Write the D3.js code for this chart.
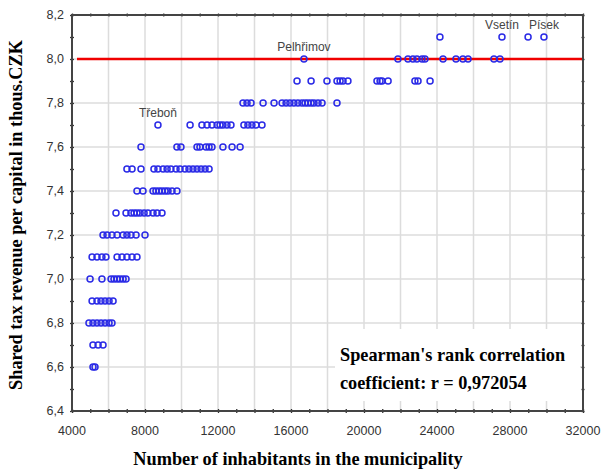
<!DOCTYPE html>
<html>
<head>
<meta charset="utf-8">
<script src="https://cdn.jsdelivr.net/npm/d3@7"></script>
<style>
body{margin:0;background:#fff;}
</style>
</head>
<body>
<svg id="graph"></svg>
<script>
// revenue levels (thous. CZK) and the municipalities sitting on each level
var revenueLevels=[6.6,6.7,6.8,6.9,7.0,7.1,7.2,7.3,7.4,7.5,7.6,7.7,7.8,7.9,8.0,8.1];

var inhabitants=[
 [5150,5260],
 [5150,5430,5700],
 [4930,5150,5370,5590,5810,6030,6190],
 [5100,5370,5590,5810,6030,6250],
 [4990,5640,6140,6300,6470,6630,6800,6960],
 [5100,5370,5640,5860,6470,6740,7010,7290,7560],
 [5700,5920,6190,6470,6800,7010,7230,7510,8000],
 [6410,6960,7230,7400,7560,7730,7950,8160,8440,8660,8930],
 [7560,7890,8440,8600,8770,8930,9100,9260,9480,9750],
 [7010,7290,7780,8490,8710,8990,9210,9420,9700,9920,10190,10410,10630,10850,11070,11290,11510],
 [7780,9750,9970,10850,11010,11340,11510,11670,12270,12770,13210],
 [8710,10470,11120,11400,11670,11950,12110,12270,12490,12710,13420,13640,13860,14080,14410],
 [13370,13590,13810,14470,15070,15510,15730,15940,16160,16380,16600,16770,16930,17100,17260,17480,17700,18520],
 [16330,17100,17970,18520,18690,18850,19120,20710,20880,20990,21320,22790,22960,23620],
 [16710,21860,22410,22680,22900,23180,23340,24330,25040,25420,25700,27120,27450],
 [24160,27560,28990,29860]
];

var townNames=["Třeboň","Pelhřimov","Vsetín","Písek"];
var townInhabitants=[8710,16710,27560,29860];
var townRevenue=[7.7,8.0,8.1,8.1];

var xTicks=[4000,8000,12000,16000,20000,24000,28000,32000];
var yTicks=[6.4,6.6,6.8,7.0,7.2,7.4,7.6,7.8,8.0,8.2];
var averageRevenue=8.0;

var screen={width:601,height:473};
var plot={left:72,right:583,top:15,bottom:411};

var svg=d3.select("#graph")
  .attr("width",screen.width)
  .attr("height",screen.height)
  .style("display","block");

var xScale=d3.scaleLinear().domain([4000,32000]).range([plot.left,plot.right]);
var yScale=d3.scaleLinear().domain([6.4,8.2]).range([plot.bottom,plot.top]);

var comma=function(v){return d3.format(".1f")(v).replace(".",",");};

// grid
var grid=svg.append("g");
grid.selectAll("line.v")
  .data(d3.range(6000,32000,2000))
  .enter().append("line")
  .attr("x1",function(d){return xScale(d);})
  .attr("x2",function(d){return xScale(d);})
  .attr("y1",plot.top).attr("y2",plot.bottom)
  .attr("stroke","#dcdcdc").attr("stroke-width",1.5);
grid.selectAll("line.h")
  .data(yTicks.slice(1,-1))
  .enter().append("line")
  .attr("y1",function(d){return yScale(d);})
  .attr("y2",function(d){return yScale(d);})
  .attr("x1",plot.left).attr("x2",plot.right)
  .attr("stroke","#dcdcdc").attr("stroke-width",1.5);

// axes with minor ticks
var minorX=d3.range(4000,32001,1000);
var minorY=d3.range(64,83,1).map(function(d){return d/10;});

var bottomAxis=d3.axisBottom(xScale).tickValues(minorX).tickSize(4).tickFormat("");
var topAxis=d3.axisTop(xScale).tickValues(minorX).tickSize(3).tickFormat("");
var leftAxis=d3.axisLeft(yScale).tickValues(minorY).tickSize(4).tickFormat("");
var rightAxis=d3.axisRight(yScale).tickValues(minorY).tickSize(3).tickFormat("");

var axes=[
  svg.append("g").attr("transform","translate(0,"+(plot.bottom-2)+")").call(bottomAxis),
  svg.append("g").attr("transform","translate(0,"+(plot.top+1.5)+")").call(topAxis),
  svg.append("g").attr("transform","translate("+(plot.left+2)+",0)").call(leftAxis),
  svg.append("g").attr("transform","translate("+(plot.right-1.5)+",0)").call(rightAxis)
];
axes.forEach(function(a){
  a.select(".domain").remove();
  a.selectAll(".tick line").attr("stroke","#333").attr("stroke-width",1.3);
});

svg.append("rect")
  .attr("x",plot.left).attr("y",plot.top)
  .attr("width",plot.right-plot.left).attr("height",plot.bottom-plot.top)
  .attr("fill","none").attr("stroke","#444").attr("stroke-width",2);

// tick labels
svg.append("g").selectAll("text")
  .data(xTicks).enter().append("text")
  .attr("x",function(d){return xScale(d);})
  .attr("y",plot.bottom+24)
  .attr("text-anchor","middle")
  .attr("font-family","Liberation Sans, Arial, sans-serif")
  .attr("font-size",12.5).attr("fill","#333")
  .text(function(d){return d;});

svg.append("g").selectAll("text")
  .data(yTicks).enter().append("text")
  .attr("x",plot.left-8)
  .attr("y",function(d){return yScale(d)+4;})
  .attr("text-anchor","end")
  .attr("font-family","Liberation Sans, Arial, sans-serif")
  .attr("font-size",12.5).attr("fill","#333")
  .text(function(d){return comma(d);});

// annotation box hides grid
svg.append("rect")
  .attr("x",335).attr("y",329).attr("width",245).attr("height",72)
  .attr("fill","#fff");

// red line at 8,0
svg.append("line")
  .attr("x1",plot.left+5).attr("x2",plot.right-1)
  .attr("y1",yScale(averageRevenue)).attr("y2",yScale(averageRevenue))
  .attr("stroke","#f00000").attr("stroke-width",2.5);

// points
var points=[];
revenueLevels.forEach(function(level,i){
  inhabitants[i].forEach(function(n){points.push({x:n,y:level});});
});

svg.append("g").selectAll("circle")
  .data(points).enter().append("circle")
  .attr("cx",function(d){return xScale(d.x);})
  .attr("cy",function(d){return yScale(d.y);})
  .attr("r",3)
  .attr("fill","none")
  .attr("stroke","#2a2ae6")
  .attr("stroke-width",1.5);

// town labels
svg.append("g").selectAll("text")
  .data(townNames).enter().append("text")
  .attr("x",function(d,i){return xScale(townInhabitants[i]);})
  .attr("y",function(d,i){return yScale(townRevenue[i])-8;})
  .attr("text-anchor","middle")
  .attr("font-family","Liberation Sans, Arial, sans-serif")
  .attr("font-size",12).attr("fill","#444")
  .text(function(d){return d;});

// titles
svg.append("text")
  .attr("transform","translate(22,215) rotate(-90)")
  .attr("text-anchor","middle")
  .attr("font-family","Liberation Serif, Times New Roman, serif")
  .attr("font-weight","bold").attr("font-size",18.3)
  .text("Shared tax revenue per capital in thous.CZK");

svg.append("text")
  .attr("x",298).attr("y",465)
  .attr("text-anchor","middle")
  .attr("font-family","Liberation Serif, Times New Roman, serif")
  .attr("font-weight","bold").attr("font-size",18.3)
  .text("Number of inhabitants in the municipality");

var note=svg.append("text")
  .attr("font-family","Liberation Serif, Times New Roman, serif")
  .attr("font-weight","bold").attr("font-size",18.3);
note.append("tspan").attr("x",340).attr("y",361).text("Spearman's rank correlation");
note.append("tspan").attr("x",340).attr("y",389).text("coefficient: r = 0,972054");
</script>
</body>
</html>
